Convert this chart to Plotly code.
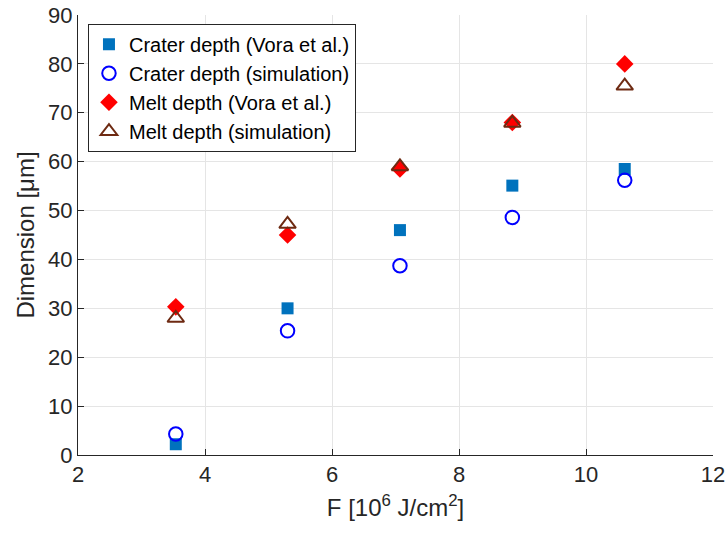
import plotly.graph_objects as go

F = [3.54, 5.30, 7.07, 8.84, 10.61]
crater_vora = [2.2, 30.0, 46.0, 55.1, 58.5]
crater_sim = [4.3, 25.4, 38.7, 48.6, 56.2]
melt_vora = [30.3, 45.0, 58.5, 68.0, 80.0]
melt_sim = [28.0, 47.2, 59.0, 67.9, 75.5]

x_ticks = [2, 4, 6, 8, 10, 12]
y_ticks = [0, 10, 20, 30, 40, 50, 60, 70, 80, 90]

font_family = "Liberation Sans, Arial, sans-serif"
axis_color = "#262626"
grid_color = "#e5e5e5"

fig = go.Figure()
fig.add_trace(go.Scatter(x=F, y=crater_vora, mode="markers", name="Crater depth (Vora et al.)",
                         marker=dict(symbol="square", size=12, color="#0072BD",
                                     line=dict(width=0))))
fig.add_trace(go.Scatter(x=F, y=crater_sim, mode="markers", name="Crater depth (simulation)",
                         marker=dict(symbol="circle-open", size=13.5, color="#0000FF",
                                     line=dict(width=2, color="#0000FF"))))
fig.add_trace(go.Scatter(x=F, y=melt_vora, mode="markers", name="Melt depth (Vora et al.)",
                         marker=dict(symbol="diamond", size=13.5, color="#FF0000",
                                     line=dict(width=0))))
fig.add_trace(go.Scatter(x=F, y=melt_sim, mode="markers", name="Melt depth (simulation)",
                         marker=dict(symbol="triangle-up-open", size=14.5, color="#6E2A12",
                                     line=dict(width=2, color="#6E2A12"))))

fig.update_layout(
    width=728, height=539,
    margin=dict(l=78, r=15, t=15, b=84),
    paper_bgcolor="white", plot_bgcolor="white",
    font=dict(family=font_family, size=22, color=axis_color),
    showlegend=True,
    legend=dict(x=0.0157, y=0.98, xanchor="left", yanchor="top",
                bgcolor="white", bordercolor=axis_color, borderwidth=1,
                font=dict(size=20, color="#000000"), tracegroupgap=0),
)
fig.update_xaxes(range=[2, 12], tickvals=x_ticks, ticktext=[str(v) for v in x_ticks],
                 showgrid=True, gridcolor=grid_color, gridwidth=1,
                 showline=True, linecolor=axis_color, linewidth=1,
                 ticks="inside", ticklen=6, tickcolor=axis_color,
                 zeroline=False, tickfont=dict(size=22), automargin=False,
                 title=dict(text="F [10<sup>6</sup> J/cm<sup>2</sup>]", font=dict(size=24), standoff=12))
fig.update_yaxes(range=[0, 90], tickvals=y_ticks, ticktext=[str(v) for v in y_ticks],
                 showgrid=True, gridcolor=grid_color, gridwidth=1,
                 showline=True, linecolor=axis_color, linewidth=1,
                 ticks="inside", ticklen=6, tickcolor=axis_color,
                 zeroline=False, tickfont=dict(size=22), automargin=False,
                 title=dict(text="Dimension [μm]", font=dict(size=24), standoff=6))

fig.write_html("out.html")
